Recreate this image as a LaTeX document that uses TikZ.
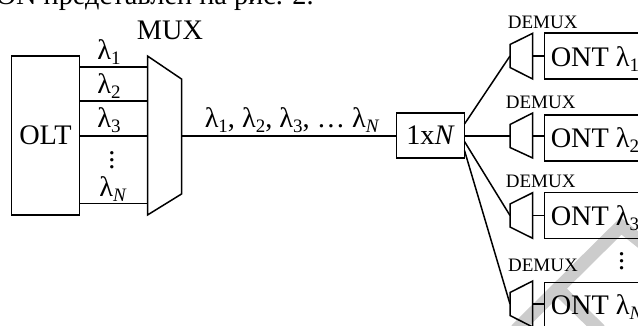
\documentclass[tikz,border=0pt]{standalone}
\usepackage{fontspec}
\setmainfont{Liberation Serif}
\newcommand{\ssub}[1]{\raisebox{-.2em}{\fontsize{19}{21}\selectfont #1}}
\newcommand{\la}[1]{λ\ssub{#1}}
\newcommand{\lan}{λ\ssub{\textit{N}}}
\newcommand{\dotstack}{\vbox{\baselineskip=7pt\lineskiplimit=-20pt\hbox{.}\hbox{.}\hbox{.}}}
\tikzset{
	big/.style={font=\fontsize{28.3}{30}\selectfont,inner sep=0pt,anchor=base},
	small/.style={font=\fontsize{19}{21}\selectfont,inner sep=0pt,anchor=base},
	blockbox/.style={draw,font=\fontsize{28.3}{30}\selectfont,inner sep=0pt,outer sep=0pt,minimum width=68pt},
	mark stroke/.style={gray!40,line width=13pt},
}
\begin{document}
\begin{tikzpicture}[x=1pt,y=-1pt,line width=1.5pt]
	\useasboundingbox (0,0) rectangle (638,325);
	\clip (0,0) rectangle (638,325);
	% watermark
	\draw[mark stroke] (645,245) -- (621,226) -- (516,330);
	\draw[mark stroke] (556,287) -- (600,330);
	% top line of text
	\node[big,anchor=base west] (head) at (-5,4) {ON представлен на рис. 2.};
	% OLT and MUX
	\node[blockbox,minimum height=159pt] (olt) at (45.5,135.5) {OLT};
	\node[big] (mux) at (170,39) {MUX};
	\draw (147.5,56) -- (181.5,79) -- (181.5,194) -- (147.5,215) -- cycle;
	\coordinate (muxout) at (181.5,136);
	\foreach \n/\y in {1/67,2/101,3/136,4/203.5} {
		\coordinate (olt\n) at (79.5,\y);
		\coordinate (mux\n) at (147.5,\y);
		\draw (olt\n) -- (mux\n);
	}
	\node[big] (l1) at (109,59) {\la{1}};
	\node[big] (l2) at (109,93) {\la{2}};
	\node[big] (l3) at (109,127) {\la{3}};
	\node[big] (ld) at (112,168) {\dotstack};
	\node[big] (ln) at (113,196) {\lan};
	% main line and splitter
	\node[blockbox,minimum height=45pt] (split) at (430.5,135.5) {1x\textit{N}};
	\draw (muxout) -- (split.west |- muxout);
	\node[big,anchor=base west] (main) at (204,127) {\la{1}, \la{2}, \la{3}, … \lan};
	% ONT branches
	\foreach \n/\y/\t/\b/\o/\s in {1/56/33.3/79/56/124,2/136/113/158/137.8/136,3/215.5/192.7/238.3/215.5/141.5,4/304/281/327/305.5/150.5} {
		\draw (510,\y-11.5) -- (532.7,\t) -- (532.7,\b) -- (510,\y+11.5) -- cycle;
		\coordinate (dem\n) at (510,\y);
		\coordinate (demout\n) at (532.7,\y);
		\coordinate (ontin\n) at (544.3,\y);
		\coordinate (splitout\n) at (464.5,\s);
		\draw (demout\n) -- (ontin\n);
		\draw (splitout\n) -- (dem\n);
		\draw (650,\o-23) -- (544.3,\o-23) -- (544.3,\o+23) -- (650,\o+23);
	}
	\foreach \n/\y/\x in {1/28/542.7,2/108/540.7,3/187/540.7,4/271.7/543} {
		\node[small] (demlabel\n) at (\x,\y) {DEMUX};
	}
	\node[big,anchor=base west] (ont1) at (550,66) {ONT \la{1}};
	\node[big,anchor=base west] (ont2) at (550,147) {ONT \la{2}};
	\node[big,anchor=base west] (ont3) at (550,225) {ONT \la{3}};
	\node[big,anchor=base west] (ontn) at (550,314) {ONT \lan};
	\node[big] (rd) at (621.7,269) {\dotstack};
\end{tikzpicture}
\end{document}
